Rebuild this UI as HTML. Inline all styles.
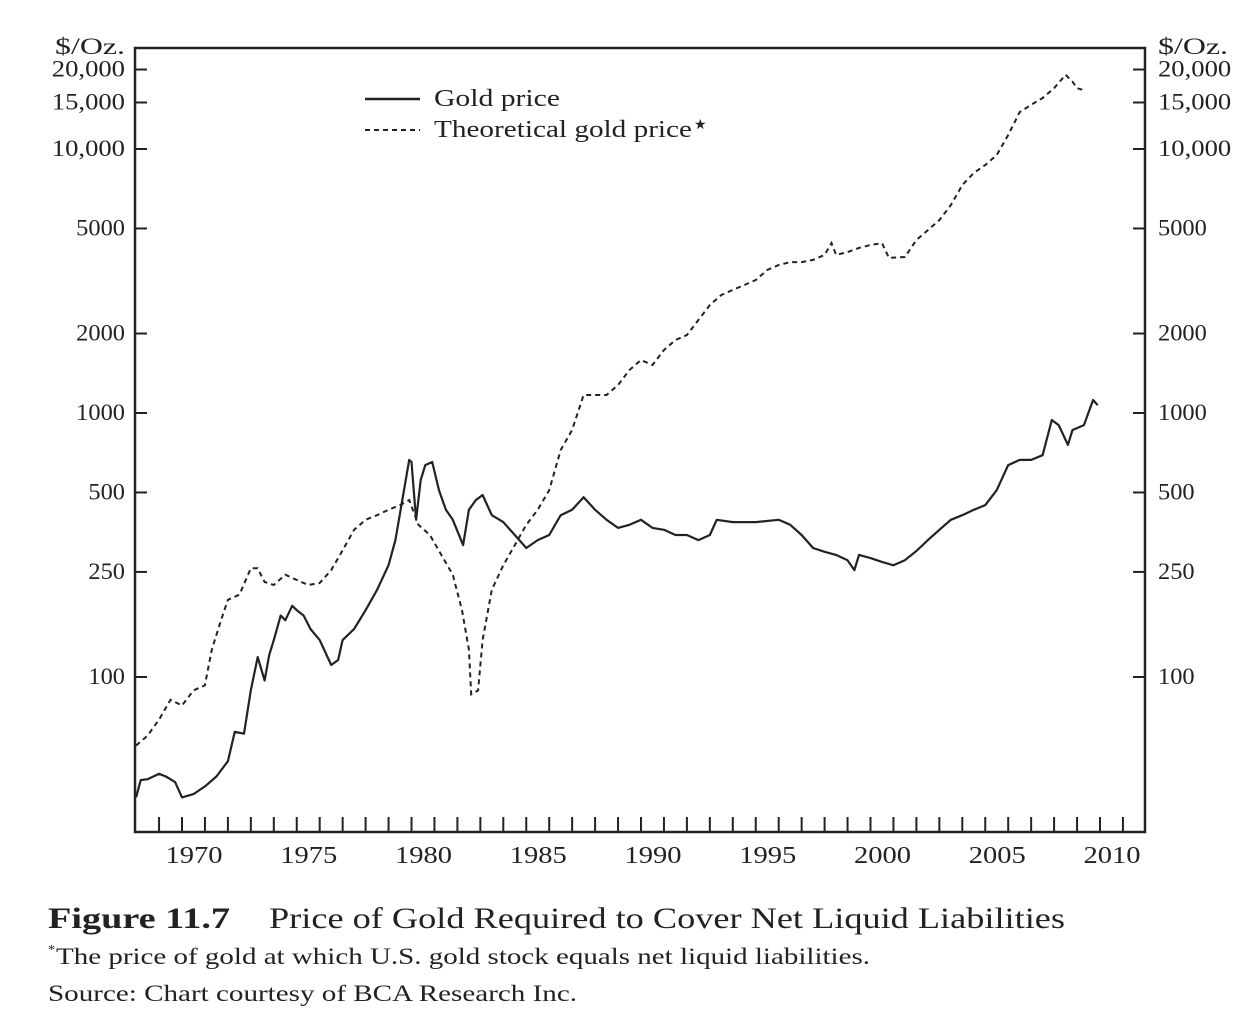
<!DOCTYPE html>
<html><head><meta charset="utf-8">
<style>
body{margin:0;background:#fff;}
svg text{font-family:"Liberation Serif",serif;fill:#222;}
</style></head>
<body>
<svg id="chart" width="1255" height="1025" xmlns="http://www.w3.org/2000/svg">
<g id="axes"></g>
<g id="series"></g>
<g>
<line x1="365" y1="99" x2="420" y2="99" stroke="#222" stroke-width="2.5"/>
<text x="434" y="106" font-size="24" textLength="126" lengthAdjust="spacingAndGlyphs">Gold price</text>
<line x1="365" y1="130" x2="420" y2="130" stroke="#222" stroke-width="2" stroke-dasharray="5,4"/>
<text x="434" y="137" font-size="24" textLength="258" lengthAdjust="spacingAndGlyphs">Theoretical gold price</text>
<text x="694" y="129" font-size="14">★</text>
</g>
<text x="55" y="54" font-size="23" textLength="70" lengthAdjust="spacingAndGlyphs">$/Oz.</text>
<text x="1158" y="54" font-size="23" textLength="70" lengthAdjust="spacingAndGlyphs">$/Oz.</text>
<text x="48" y="928" font-size="30" font-weight="bold" textLength="182" lengthAdjust="spacingAndGlyphs">Figure 11.7</text>
<text x="269" y="928" font-size="30" textLength="796" lengthAdjust="spacingAndGlyphs">Price of Gold Required to Cover Net Liquid Liabilities</text>
<text x="48" y="954" font-size="14">*</text>
<text x="56" y="964" font-size="23" textLength="814" lengthAdjust="spacingAndGlyphs">The price of gold at which U.S. gold stock equals net liquid liabilities.</text>
<text x="48" y="1001" font-size="23" textLength="529" lengthAdjust="spacingAndGlyphs">Source: Chart courtesy of BCA Research Inc.</text>
</svg>
<script>
const yTicks=[20000,15000,10000,5000,2000,1000,500,250,100];
const yTickLabels=["20,000","15,000","10,000","5000","2000","1000","500","250","100"];
const xLabels=[1970,1975,1980,1985,1990,1995,2000,2005,2010];
const goldYears=[1968.0,1968.2,1968.5,1969.0,1969.3,1969.7,1970.0,1970.5,1971.0,1971.5,1972.0,1972.3,1972.7,1973.0,1973.3,1973.6,1973.8,1974.0,1974.3,1974.5,1974.8,1975.0,1975.3,1975.6,1976.0,1976.5,1976.8,1977.0,1977.5,1978.0,1978.5,1979.0,1979.3,1979.6,1979.9,1980.0,1980.2,1980.4,1980.6,1980.9,1981.2,1981.5,1981.8,1982.25,1982.5,1982.8,1983.1,1983.5,1984.0,1984.5,1985.0,1985.5,1986.0,1986.5,1987.0,1987.5,1988.0,1988.5,1989.0,1989.5,1990.0,1990.5,1991.0,1991.5,1992.0,1992.5,1993.0,1993.3,1994.0,1995.0,1996.0,1996.5,1997.0,1997.5,1998.0,1998.5,1999.0,1999.3,1999.5,2000.0,2000.5,2001.0,2001.5,2002.0,2002.5,2003.0,2003.5,2004.0,2004.5,2005.0,2005.5,2006.0,2006.5,2007.0,2007.5,2007.9,2008.2,2008.6,2008.8,2009.3,2009.7,2009.9];
const goldValues=[35,40.7,41,43,42,40,35,36,38.5,42,48,62,61,89,119,97,121,138,171,164,186,179,171,152,138,111,116,138,152,179,214,265,330,468,664,652,394,557,635,652,510,430,394,316,430,468,489,410,386,345,308,330,345,410,430,480,430,394,367,377,394,367,361,345,345,330,345,394,386,386,394,377,345,308,298,290,277,254,290,282,273,265,277,300,330,361,394,410,430,448,510,635,664,664,692,941,900,757,862,900,1120,1070];
const theoYears=[1968.0,1968.5,1969.0,1969.5,1970.0,1970.5,1971.0,1971.3,1971.7,1972.0,1972.5,1973.0,1973.3,1973.6,1974.0,1974.5,1975.0,1975.5,1976.0,1976.5,1977.0,1977.5,1978.0,1978.5,1979.0,1979.5,1979.9,1980.3,1980.8,1981.3,1981.8,1982.2,1982.5,1982.6,1982.9,1983.1,1983.5,1984.0,1984.5,1985.0,1985.5,1986.0,1986.5,1987.0,1987.5,1988.0,1988.5,1989.0,1989.5,1990.0,1990.5,1991.0,1991.5,1992.0,1992.5,1993.0,1993.5,1994.0,1994.5,1995.0,1995.5,1996.0,1996.5,1997.0,1997.5,1998.0,1998.3,1998.5,1999.0,1999.5,2000.0,2000.5,2000.8,2001.5,2002.0,2002.5,2003.0,2003.5,2004.0,2004.5,2005.0,2005.5,2006.0,2006.5,2007.0,2007.5,2008.0,2008.5,2008.8,2009.0,2009.3];
const theoValues=[55,60,69,82,78,89,93,127,164,196,205,258,258,229,223,244,233,223,227,254,302,361,394,410,430,448,468,377,345,290,244,179,127,86,89,138,214,265,316,377,430,510,724,862,1170,1170,1170,1276,1455,1588,1520,1733,1890,1973,2250,2566,2800,2925,3055,3190,3480,3635,3730,3730,3800,3970,4400,3970,4070,4220,4330,4400,3870,3900,4520,4930,5380,6130,7300,8110,8700,9490,11300,13800,14700,15600,17000,19100,18000,17000,16700];

const L=135,R=1145,T=48,B=832;
function xs(yr){return 182+(yr-1970)*22.95;}
function ys(v){return 413-(Math.log10(v)-3)*264;}
const NS="http://www.w3.org/2000/svg";
function mk(tag,attrs,parent){const e=document.createElementNS(NS,tag);for(const k in attrs)e.setAttribute(k,attrs[k]);parent.appendChild(e);return e;}
const axes=document.getElementById('axes');
const frame=mk('rect',{x:L,y:T,width:R-L,height:B-T,fill:'none',stroke:'#222','stroke-width':2.5},axes);


yTicks.forEach((v,i)=>{
  const y=ys(v);
  const w=yTickLabels[i].length*12.2;
  const t1=mk('line',{x1:L,x2:L+12,y1:y,y2:y,stroke:'#222','stroke-width':2},axes);
  
  
  const t2=mk('line',{x1:R-12,x2:R,y1:y,y2:y,stroke:'#222','stroke-width':2},axes);
  
  
  const a=mk('text',{x:125-w,y:y+7,'font-size':23,textLength:w,lengthAdjust:'spacingAndGlyphs'},axes);a.textContent=yTickLabels[i];
  
  
  const b=mk('text',{x:1158,y:y+7,'font-size':23,textLength:w,lengthAdjust:'spacingAndGlyphs'},axes);b.textContent=yTickLabels[i];
  
  
});
for(let yr=1968;yr<=2011;yr++){
  const x=xs(yr);if(x<=L+2||x>=R-2)continue;
  const t=mk('line',{x1:x,x2:x,y1:B-15,y2:B,stroke:'#222','stroke-width':2},axes);
  
  
}
xLabels.forEach(yr=>{
  const t=mk('text',{x:xs(yr+0.5)-28,y:863,'font-size':24,textLength:57,lengthAdjust:'spacingAndGlyphs'},axes);t.textContent=yr;
  
  
});
const series=document.getElementById('series');
function path(xsArr,vals){return xsArr.map((yr,i)=>(i?'L':'M')+xs(yr).toFixed(1)+','+ys(vals[i]).toFixed(1)).join(' ');}
const g=mk('path',{d:path(goldYears,goldValues),fill:'none',stroke:'#222','stroke-width':2.2,'stroke-linejoin':'round'},series);


const th=mk('path',{d:path(theoYears,theoValues),fill:'none',stroke:'#222','stroke-width':2,'stroke-dasharray':'5,4'},series);


</script>
</body></html>
